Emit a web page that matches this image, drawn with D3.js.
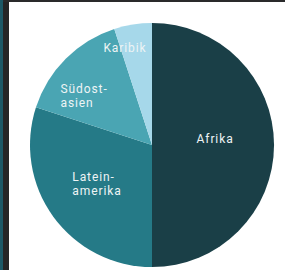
<!DOCTYPE html>
<html>
<head>
<meta charset="utf-8">
<script src="https://cdn.jsdelivr.net/npm/d3@7"></script>
<style>
  body { margin: 0; background: #fff; }
  svg { display: block; }
</style>
</head>
<body>
<div id="chart"></div>
<script>
const regions = ["Afrika", "Lateinamerika", "Südostasien", "Karibik"];
const labelLines = [["Afrika"], ["Latein-", "amerika"], ["Südost-", "asien"], ["Karibik"]];
const shares = [50, 30, 15, 5];
const colors = ["#1a3f47", "#257a87", "#4aa5b3", "#a6d8ea"];

const width = 285, height = 270;
const cx = 152, cy = 145, r = 122;

const svg = d3.select("#chart").append("svg")
    .attr("width", width)
    .attr("height", height);

// page frame bits at the edge of the scan
svg.append("rect").attr("x", 0).attr("y", 0).attr("width", 3).attr("height", height).attr("fill", "#1c5866");
svg.append("rect").attr("x", 3).attr("y", 0).attr("width", 6).attr("height", height).attr("fill", "#252526");
svg.append("rect").attr("x", 3).attr("y", 0).attr("width", width).attr("height", 2).attr("fill", "#2a2a2b");

const data = regions.map((d, i) => ({ name: d, value: shares[i], lines: labelLines[i], color: colors[i] }));

const pie = d3.pie().sort(null).value(d => d.value);
const arc = d3.arc().innerRadius(0).outerRadius(r);

const g = svg.append("g").attr("transform", `translate(${cx},${cy})`);

const arcs = pie(data);

g.selectAll("path")
    .data(arcs)
    .enter().append("path")
    .attr("d", arc)
    .attr("fill", d => d.data.color);

// label radius per slice (fraction of r) and small angle nudges
const labelR = [0.52, 0.553, 0.687, 0.83];
const labelNudge = [-0.103, 0.012, -0.16, -0.113];
const lh = 14;

arcs.forEach(function(d, i) {
    const a = (d.startAngle + d.endAngle) / 2 + labelNudge[i];
    const rr = r * labelR[i];
    const x = Math.sin(a) * rr;
    const y = -Math.cos(a) * rr;
    const lines = d.data.lines;
    const texts = lines.map((l, j) => g.append("text")
        .attr("font-family", "Roboto, sans-serif")
        .attr("font-size", "12px")
        .attr("letter-spacing", "0.9px")
        .attr("fill", "#eef4f5")
        .attr("y", y + 4.5 - (lines.length - 1) * lh / 2 + j * lh)
        .text(l));
    const w = d3.max(texts, t => t.node().getComputedTextLength());
    texts.forEach(t => t.attr("x", x - w / 2));
});
</script>
</body>
</html>
